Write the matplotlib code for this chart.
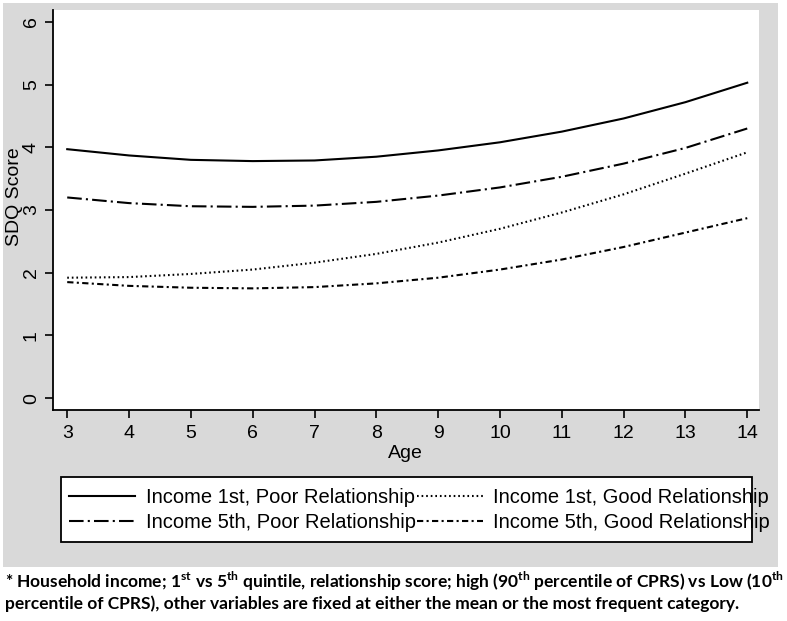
import matplotlib
matplotlib.use("Agg")
import matplotlib.pyplot as plt
from matplotlib.patches import Rectangle
from matplotlib.lines import Line2D

# values (SDQ score by age)
age = [3, 4, 5, 6, 7, 8, 9, 10, 11, 12, 13, 14]
inc1_poor = [3.97, 3.87, 3.80, 3.78, 3.79, 3.85, 3.95, 4.08, 4.25, 4.46, 4.72, 5.03]
inc5_poor = [3.20, 3.11, 3.06, 3.05, 3.07, 3.13, 3.23, 3.36, 3.53, 3.74, 3.99, 4.30]
inc1_good = [1.92, 1.93, 1.98, 2.05, 2.16, 2.30, 2.48, 2.70, 2.96, 3.25, 3.58, 3.92]
inc5_good = [1.85, 1.79, 1.76, 1.75, 1.77, 1.83, 1.92, 2.05, 2.21, 2.41, 2.64, 2.87]

labels = [
    "Income 1st, Poor Relationship",
    "Income 1st, Good Relationship",
    "Income 5th, Poor Relationship",
    "Income 5th, Good Relationship",
]
yticks = [0, 1, 2, 3, 4, 5, 6]

W, H = 787, 621
plt.rcParams["font.family"] = ["Liberation Sans", "DejaVu Sans"]
plt.rcParams["mathtext.fontset"] = "custom"
plt.rcParams["mathtext.rm"] = "Lato:bold"
plt.rcParams["mathtext.bf"] = "Lato:bold"

fig = plt.figure(figsize=(W / 100, H / 100), dpi=100, facecolor="white")

# Stata-like grey graph region
fig.add_artist(
    Rectangle((3 / W, 1 - 567 / H), (778 - 3) / W, (567 - 3) / H,
              transform=fig.transFigure, facecolor="#d9d9d9", edgecolor="none", zorder=-2)
)
# legend box (text overflows it a little, as in the original)
fig.add_artist(
    Rectangle((61 / W, 1 - 542 / H), (752 - 61) / W, (542 - 477) / H,
              transform=fig.transFigure, facecolor="white", edgecolor="black",
              linewidth=1.3, zorder=-1)
)

ax = fig.add_axes([53 / W, 1 - 410 / H, (759 - 53) / W, 400 / H])
ax.set_facecolor("white")

lw = 1.5
styles = {
    "solid": dict(linestyle="-"),
    "longdashdot": dict(dashes=(7, 2, 1, 2)),
    "dot": dict(dashes=(0.8, 1.4)),
    "shortdashdot": dict(dashes=(3, 1.6, 1, 1.6)),
}
ax.plot(age, inc1_poor, color="black", lw=lw, **styles["solid"])
ax.plot(age, inc1_good, color="black", lw=lw, **styles["dot"])
ax.plot(age, inc5_poor, color="black", lw=lw, **styles["longdashdot"])
ax.plot(age, inc5_good, color="black", lw=lw, **styles["shortdashdot"])

ax.set_xlim(2.77, 14.19)
ax.set_ylim(-0.19, 6.19)
ax.set_xticks(age)
ax.set_yticks(yticks)
ax.set_yticklabels([str(v) for v in yticks], rotation=90, va="center")
ax.tick_params(axis="both", labelsize=14, length=5.5, width=1.2, color="black")
ax.tick_params(axis="x", pad=5)
ax.tick_params(axis="y", pad=4)
for s in ["top", "right"]:
    ax.spines[s].set_visible(False)
for s in ["left", "bottom"]:
    ax.spines[s].set_linewidth(1.3)

pw, ph = 759 - 53, 400
ax.set_xlabel("Age", fontsize=14)
ax.xaxis.set_label_coords((405 - 53) / pw, -(445 - 410) / ph, transform=ax.transAxes)
ax.set_ylabel("SDQ Score", fontsize=14)
ax.yaxis.set_label_coords(-(53 - 23) / pw, (410 - 197) / ph, transform=ax.transAxes)

handles = [
    Line2D([], [], color="black", lw=lw, **styles["solid"]),
    Line2D([], [], color="black", lw=lw, **styles["longdashdot"]),
    Line2D([], [], color="black", lw=lw, **styles["dot"]),
    Line2D([], [], color="black", lw=lw, **styles["shortdashdot"]),
]
leg_labels = [labels[0], labels[2], labels[1], labels[3]]
leg = fig.legend(
    handles, leg_labels, ncol=2, loc="upper left",
    bbox_to_anchor=(69 / W, 1 - 488 / H),
    fontsize=14.5, frameon=False,
    handlelength=3.3, handletextpad=0.5, columnspacing=0.05,
    borderpad=0, labelspacing=0.3, borderaxespad=0,
)

note_font = ["Lato", "DejaVu Sans"]
note1 = (r"* Household income; 1$^{\mathrm{st}}$ vs 5$^{\mathrm{th}}$ quintile, relationship score; "
         r"high (90$^{\mathrm{th}}$ percentile of CPRS) vs Low (10$^{\mathrm{th}}$")
note2 = "percentile of CPRS), other variables are fixed at either the mean or the most frequent category."
t1 = fig.text(5 / W, 1 - 581 / H, note1, fontsize=13, fontweight="bold", va="center", family=note_font)
t2 = fig.text(5 / W, 1 - 604 / H, note2, fontsize=13, fontweight="bold", va="center", family=note_font)

# fit the footnote to the width it has in the original
r = fig.canvas.get_renderer()
scale = 778 / t1.get_window_extent(r).width
t1.set_fontsize(13 * scale)
t2.set_fontsize(13 * scale)

fig.savefig("out.png", dpi=100, facecolor="white")
